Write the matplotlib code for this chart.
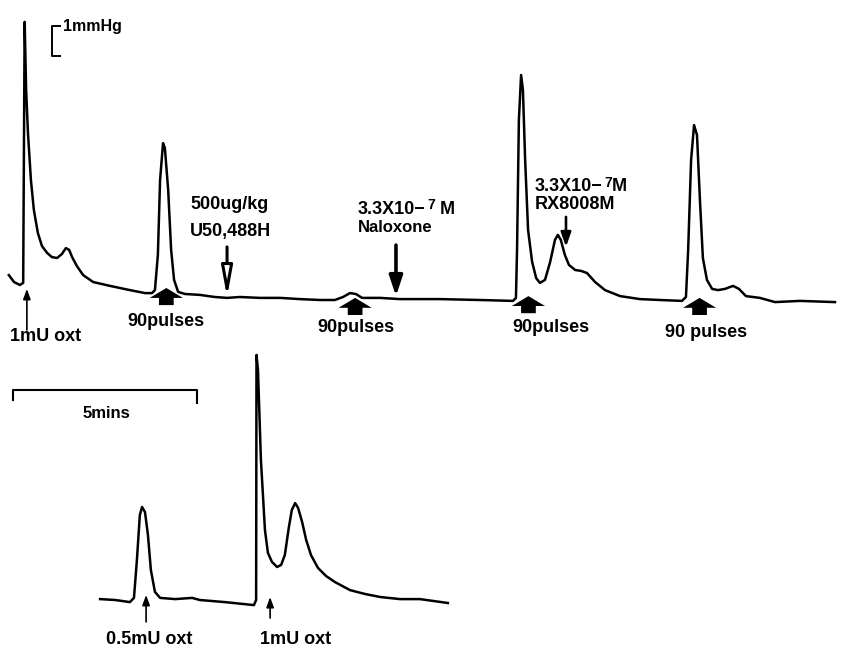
import matplotlib.pyplot as plt
import numpy as np

plt.rcParams['font.family'] = ['Liberation Sans', 'DejaVu Sans']
plt.rcParams['font.weight'] = 'bold'

# uterine pressure traces: time in minutes, pressure in mmHg above baseline
top_t = [0.24, 0.38, 0.54, 0.63, 0.67, 0.71, 0.76, 0.84, 0.92, 1.03, 1.14, 1.28,
         1.41, 1.55, 1.68, 1.79, 1.88, 1.96, 2.09, 2.26, 2.53, 2.99, 3.53, 3.94,
         4.13, 4.21, 4.29, 4.35, 4.43, 4.48, 4.57, 4.65, 4.73, 4.84, 5.03, 5.43,
         5.84, 6.17, 6.52, 7.07, 7.61, 8.15, 8.70, 9.10, 9.32, 9.51, 9.67, 9.84,
         10.33, 10.87, 11.96, 13.04, 13.94, 14.02, 14.05, 14.10, 14.16, 14.21,
         14.27, 14.35, 14.46, 14.57, 14.67, 14.81, 14.95, 15.08, 15.16, 15.24,
         15.35, 15.46, 15.63, 15.79, 15.95, 16.17, 16.44, 16.85, 17.39, 17.93,
         18.53, 18.64, 18.70, 18.78, 18.86, 18.94, 19.02, 19.10, 19.21, 19.35,
         19.51, 19.70, 19.92, 20.08, 20.27, 20.65, 21.06, 21.74, 22.69]
top_p = [0.83, 0.60, 0.50, 0.57, 9.27, 7.00, 5.57, 4.00, 3.00, 2.23, 1.80, 1.57,
         1.43, 1.40, 1.53, 1.73, 1.67, 1.43, 1.13, 0.83, 0.60, 0.47, 0.33, 0.23,
         0.23, 0.33, 1.50, 4.00, 5.23, 5.07, 3.67, 1.67, 0.67, 0.27, 0.20, 0.17,
         0.10, 0.07, 0.10, 0.07, 0.07, 0.03, 0.00, 0.00, 0.10, 0.23, 0.20, 0.07,
         0.07, 0.03, 0.03, 0.00, -0.03, 0.07, 1.67, 6.00, 7.50, 7.00,
         4.67, 2.33, 1.27, 0.73, 0.57, 0.67, 1.27, 2.00, 2.17, 2.00,
         1.50, 1.17, 1.00, 0.97, 0.90, 0.60, 0.33, 0.13, 0.03, 0.00,
         -0.03, 0.10, 1.67, 4.67, 5.83, 5.50, 3.33, 1.40, 0.67, 0.37,
         0.33, 0.37, 0.47, 0.37, 0.13, 0.07, -0.07, -0.03, -0.07]

bot_t = [2.72, 3.13, 3.53, 3.64, 3.72, 3.80, 3.86, 3.94, 4.02, 4.10, 4.21, 4.35,
         4.76, 5.22, 5.43, 6.11, 6.90, 6.96, 6.97, 7.01, 7.09, 7.20, 7.28, 7.39,
         7.53, 7.64, 7.74, 7.85, 7.93, 8.02, 8.10, 8.21, 8.32, 8.45, 8.64, 8.86,
         9.10, 9.51, 9.92, 10.33, 10.87, 11.41, 12.17]
bot_p = [0.03, 0.00, -0.07, 0.07, 1.33, 2.83, 3.10, 2.93, 2.17, 1.00, 0.27, 0.07,
         0.03, 0.07, 0.00, -0.07, -0.17, 0.00, 8.17, 7.67, 4.67, 2.33, 1.57, 1.27,
         1.10, 1.17, 1.50, 2.43, 3.00, 3.23, 3.07, 2.60, 2.00, 1.50, 1.07, 0.80,
         0.60, 0.33, 0.20, 0.10, 0.03, 0.03, -0.10]

# stimulation events on the upper trace
pulse_t = [4.52, 9.65, 14.36, 19.01]
pulse_tip = [0.40, 0.07, 0.13, 0.07]
pulse_label_t = [4.52, 9.67, 14.97, 19.20]
pulse_label_p = [-0.73, -0.90, -0.93, -1.07]
pulse_labels = ['90pulses', '90pulses', '90pulses', '90 pulses']

PX_MIN = 36.8    # pixels per minute
PX_MMHG = 30.0   # pixels per mmHg
W, H = 842, 655

fig = plt.figure(figsize=(W / 100, H / 100), dpi=100)
ax1 = fig.add_axes([0, 1 - 360 / H, 1, 360 / H])
ax2 = fig.add_axes([0, 0, 1, 295 / H])
ax1.set_xlim(0, W / PX_MIN)
ax1.set_ylim(-60 / PX_MMHG, 300 / PX_MMHG)
ax2.set_xlim(0, W / PX_MIN)
ax2.set_ylim(-55 / PX_MMHG, 240 / PX_MMHG)
for a in (ax1, ax2):
    a.axis('off')

ax1.plot(top_t, top_p, color='black', lw=1.8, clip_on=False, solid_joinstyle='round')
ax2.plot(bot_t, bot_p, color='black', lw=1.8, clip_on=False, solid_joinstyle='round')

FS = 13

# block arrows for the stimulation trains
head_w, stem_w, head_h, tot_h = 0.45, 0.2, 0.33, 0.57
for t, tip, lt, lp, lab in zip(pulse_t, pulse_tip, pulse_label_t, pulse_label_p, pulse_labels):
    xs = [t, t + head_w, t + stem_w, t + stem_w, t - stem_w, t - stem_w, t - head_w]
    ys = [tip, tip - head_h, tip - head_h, tip - tot_h, tip - tot_h, tip - head_h, tip - head_h]
    ax1.fill(xs, ys, color='black', clip_on=False, lw=0)
    ax1.text(lt, lp, lab, ha='center', va='center', fontsize=FS)


def drug_arrow(ax, t, p_from, p_to, style, lw, fc='black'):
    ax.annotate('', xy=(t, p_to), xytext=(t, p_from),
                arrowprops=dict(arrowstyle=style, lw=lw, fc=fc, ec='black',
                                shrinkA=0, shrinkB=0, mutation_scale=10))


def conc_label(ax, t, p, unit_sep):
    # "3.3X10-7 M" with the exponent raised
    base = ax.text(t, p, '3.3X10\u2212', ha='left', va='center', fontsize=FS)
    exp = ax.annotate('7', xy=(1.0, 1.0), xycoords=base, xytext=(1, 2),
                      textcoords='offset points', ha='left', va='top', fontsize=10)
    ax.annotate(unit_sep + 'M', xy=(1.0, 0.5), xycoords=(exp, base), xytext=(0, 0),
                textcoords='offset points', ha='left', va='center', fontsize=FS)


# 1 mmHg calibration bracket
ax1.plot([1.63, 1.41, 1.41, 1.63], [9.13, 9.13, 8.13, 8.13], color='black', lw=1.4)
ax1.text(1.71, 9.13, '1mmHg', ha='left', va='center', fontsize=11.5)

# oxytocin injection on the upper trace
drug_arrow(ax1, 0.73, -1.0, 0.37, '-|>,head_length=0.6,head_width=0.22', 1.2)
ax1.text(0.27, -1.23, '1mU oxt', ha='left', va='center', fontsize=FS)

# U50,488H (open arrowhead)
drug_arrow(ax1, 6.17, 1.77, 0.10, '-|>,head_length=1.8,head_width=0.33', 2.2, fc='white')
ax1.text(6.25, 3.17, '500ug/kg', ha='center', va='center', fontsize=FS)
ax1.text(6.25, 2.27, 'U50,488H', ha='center', va='center', fontsize=FS)

# naloxone
drug_arrow(ax1, 10.76, 1.83, 0.13, '-|>,head_length=1.2,head_width=0.4', 2.6)
conc_label(ax1, 9.73, 3.03, ' ')
ax1.text(9.73, 2.43, 'Naloxone', ha='left', va='center', fontsize=12)

# RX8008M
drug_arrow(ax1, 15.38, 2.77, 1.77, '-|>,head_length=0.85,head_width=0.3', 1.9)
conc_label(ax1, 14.54, 3.77, '')
ax1.text(14.54, 3.17, 'RX8008M', ha='left', va='center', fontsize=FS)

# 5 min time bar
ax2.plot([0.35, 0.35, 5.35, 5.35], [6.67, 7.0, 7.0, 6.57], color='black', lw=1.5)
ax2.text(2.88, 6.23, '5mins', ha='center', va='center', fontsize=12)

# oxytocin injections on the lower trace
drug_arrow(ax2, 3.97, -0.73, 0.17, '-|>,head_length=0.6,head_width=0.22', 1.2)
ax2.text(4.05, -1.33, '0.5mU oxt', ha='center', va='center', fontsize=FS)
drug_arrow(ax2, 7.34, -0.60, 0.10, '-|>,head_length=0.6,head_width=0.22', 1.2)
ax2.text(8.02, -1.33, '1mU oxt', ha='center', va='center', fontsize=FS)

fig.savefig('out.png', dpi=100)
